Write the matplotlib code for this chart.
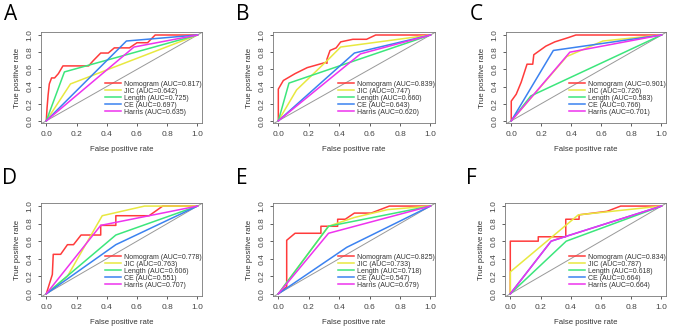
import matplotlib
matplotlib.use("Agg")
import matplotlib.pyplot as plt

plt.rcParams["font.family"] = ["Liberation Sans", "DejaVu Sans"]

# ROC curve points: (FPR list, TPR list) per model and panel
names = ["Nomogram", "JIC", "Length", "CE", "Harris"]
colors = ["#ff3b3b", "#e8e840", "#3ce67c", "#3b82f0", "#ee33ee"]
letters = ["A", "B", "C", "D", "E", "F"]

auc_A = [0.817, 0.642, 0.725, 0.697, 0.635]
auc_B = [0.839, 0.747, 0.660, 0.643, 0.620]
auc_C = [0.901, 0.726, 0.583, 0.766, 0.701]
auc_D = [0.778, 0.763, 0.606, 0.551, 0.707]
auc_E = [0.825, 0.733, 0.718, 0.547, 0.679]
auc_F = [0.834, 0.787, 0.618, 0.664, 0.664]

roc_A = [
    ([0, 0.005, 0.012, 0.02, 0.035, 0.055, 0.08, 0.11, 0.28, 0.31, 0.36, 0.41, 0.45, 0.55, 0.6, 0.67, 0.72, 1],
     [0, 0.15, 0.3, 0.43, 0.5, 0.5, 0.55, 0.64, 0.64, 0.7, 0.79, 0.79, 0.85, 0.85, 0.91, 0.91, 1.0, 1]),
    ([0, 0.16, 1], [0, 0.43, 1]),
    ([0, 0.12, 1], [0, 0.57, 1]),
    ([0, 0.53, 1], [0, 0.93, 1]),
    ([0, 0.58, 1], [0, 0.86, 1]),
]
roc_B = [
    ([0, 0, 0.033, 0.11, 0.19, 0.31, 0.32, 0.32, 0.34, 0.38, 0.41, 0.49, 0.58, 0.64, 1],
     [0, 0.37, 0.47, 0.55, 0.62, 0.68, 0.67, 0.72, 0.82, 0.85, 0.92, 0.95, 0.95, 1.0, 1]),
    ([0, 0.12, 0.32, 0.41, 1], [0, 0.36, 0.7, 0.86, 1]),
    ([0, 0.07, 1], [0, 0.44, 1]),
    ([0, 0.5, 1], [0, 0.79, 1]),
    ([0, 0.54, 1], [0, 0.78, 1]),
]
roc_C = [
    ([0, 0, 0.033, 0.066, 0.105, 0.143, 0.15, 0.19, 0.23, 0.29, 0.38, 0.43, 1],
     [0, 0.23, 0.31, 0.45, 0.66, 0.66, 0.77, 0.82, 0.87, 0.92, 0.97, 1.0, 1]),
    ([0, 0.37, 0.61, 1], [0, 0.75, 0.93, 1]),
    ([0, 0.13, 1], [0, 0.29, 1]),
    ([0, 0.28, 1], [0, 0.82, 1]),
    ([0, 0.39, 1], [0, 0.8, 1]),
]
roc_D = [
    ([0, 0.04, 0.046, 0.095, 0.14, 0.18, 0.23, 0.36, 0.36, 0.46, 0.46, 0.68, 0.77, 1],
     [0, 0.22, 0.45, 0.45, 0.56, 0.56, 0.67, 0.67, 0.78, 0.78, 0.89, 0.89, 1.0, 1]),
    ([0, 0.14, 0.37, 0.65, 1], [0, 0.2, 0.89, 1.0, 1]),
    ([0, 0.46, 1], [0, 0.67, 1]),
    ([0, 0.46, 1], [0, 0.56, 1]),
    ([0, 0.36, 1], [0, 0.78, 1]),
]
roc_E = [
    ([0, 0.055, 0.055, 0.11, 0.28, 0.28, 0.39, 0.39, 0.44, 0.5, 0.61, 0.73, 1],
     [0, 0.08, 0.61, 0.69, 0.69, 0.77, 0.77, 0.85, 0.85, 0.92, 0.92, 1.0, 1]),
    ([0, 0.33, 0.5, 0.72, 1], [0, 0.77, 0.87, 0.96, 1]),
    ([0, 0.33, 1], [0, 0.77, 1]),
    ([0, 0.45, 1], [0, 0.53, 1]),
    ([0, 0.33, 1], [0, 0.69, 1]),
]
roc_F = [
    ([0, 0, 0.185, 0.185, 0.367, 0.367, 0.455, 0.455, 0.64, 0.73, 1],
     [0, 0.6, 0.6, 0.65, 0.65, 0.85, 0.85, 0.9, 0.94, 1.0, 1]),
    ([0, 0, 0.45, 1], [0, 0.25, 0.9, 1]),
    ([0, 0.37, 1], [0, 0.6, 1]),
    ([0, 0.27, 0.36, 1], [0, 0.6, 0.65, 1]),
    ([0, 0.27, 0.36, 1], [0, 0.6, 0.65, 1]),
]

rocs = [roc_A, roc_B, roc_C, roc_D, roc_E, roc_F]
aucs = [auc_A, auc_B, auc_C, auc_D, auc_E, auc_F]

W, H = 685, 331
# axes boxes in pixels: left, top, right, bottom
boxes = [(41, 32, 202, 123), (273, 32, 435, 123), (506, 32, 666, 123),
         (41, 203, 202, 296), (273, 203, 435, 296), (505, 203, 666, 296)]
letter_pos = [(4, 4), (236, 4), (470, 4), (2, 168), (236, 168), (466, 168)]

fig = plt.figure(figsize=(W / 100, H / 100), dpi=100)

for i in range(6):
    l, t, r, b = boxes[i]
    ax = fig.add_axes([l / W, 1 - b / H, (r - l) / W, (b - t) / H])
    ax.plot([-0.05, 1.05], [-0.05, 1.05], color="#999999", lw=0.7)
    for j in range(5):
        x, y = rocs[i][j]
        ax.plot(x, y, color=colors[j], lw=1.1,
                label="%s (AUC=%.3f)" % (names[j], aucs[i][j]))
    ax.set_xlim(-0.035, 1.03)
    ax.set_ylim(-0.025, 1.035)
    ax.set_xticks([0, 0.2, 0.4, 0.6, 0.8, 1.0])
    ax.set_yticks([0, 0.2, 0.4, 0.6, 0.8, 1.0])
    ax.set_xticklabels(["0.0", "0.2", "0.4", "0.6", "0.8", "1.0"])
    ax.set_yticklabels(["0.0", "0.2", "0.4", "0.6", "0.8", "1.0"],
                       rotation=90, va="center")
    ax.tick_params(labelsize=6, length=2.5, width=0.6, colors="#444444",
                   pad=3)
    for s in ax.spines.values():
        s.set_color("#777777")
        s.set_linewidth(0.6)
    ax.set_xlabel("False positive rate", fontsize=5.6, color="#333333",
                  labelpad=6)
    ax.set_ylabel("True positive rate", fontsize=5.6, color="#333333",
                  labelpad=4)
    ax.legend(loc="lower right", bbox_to_anchor=(1.0, 0.08), frameon=False,
              fontsize=5.0, handlelength=2.3, handletextpad=0.45,
              labelspacing=0.0, borderaxespad=0.0, borderpad=0.0,
              labelcolor="#333333")
    fig.text(letter_pos[i][0] / W, 1 - letter_pos[i][1] / H, letters[i],
             fontsize=15, va="top", ha="left", family="Open Sans")

fig.savefig("out.png", dpi=100)
